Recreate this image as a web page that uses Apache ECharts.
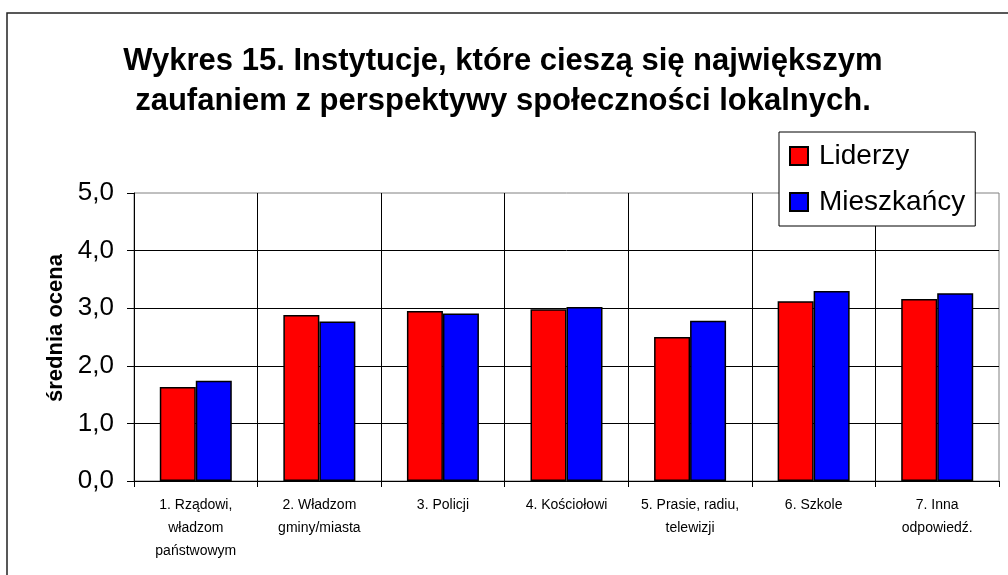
<!DOCTYPE html>
<html lang="pl">
<head>
    <meta charset="UTF-8">
    <title>Wykres 15</title>
    <script src="https://cdn.jsdelivr.net/npm/echarts@6/dist/echarts.min.js"></script>
    <style>
        html, body { margin: 0; padding: 0; background: #fff; }
        .box { width: 1008px; height: 575px; }
    </style>
</head>
<body>
<div id="chart" class="box"></div>
<script>
    // dane
    var categories = [
        '1. Rządowi,\nwładzom\npaństwowym',
        '2. Władzom\ngminy/miasta',
        '3. Policji',
        '4. Kościołowi',
        '5. Prasie, radiu,\ntelewizji',
        '6. Szkole',
        '7. Inna\nodpowiedź.'
    ];
    var liderzy = [1.63, 2.88, 2.95, 2.98, 2.50, 3.12, 3.16];
    var mieszkancy = [1.74, 2.77, 2.91, 3.02, 2.78, 3.30, 3.26];

    var font = 'Liberation Sans, Arial, sans-serif';

    var myChart = echarts.init(document.getElementById('chart'));
    var option = {
        animation: false,
        textStyle: { fontFamily: font },
        title: {
            text: 'Wykres 15. Instytucje, które cieszą się największym\nzaufaniem z perspektywy społeczności lokalnych.',
            left: 498,
            textAlign: 'center',
            top: 36,
            textStyle: {
                fontFamily: font,
                fontSize: 31,
                fontWeight: 'bold',
                lineHeight: 40,
                color: '#000'
            }
        },
        graphic: [{
            type: 'rect',
            shape: { x: 7, y: 13, width: 1100, height: 700 },
            style: { fill: 'none', stroke: '#222', lineWidth: 1.5 },
            silent: true
        }],
        legend: {
            orient: 'vertical',
            left: 779,
            top: 132,
            padding: [10, 10, 10, 10],
            itemWidth: 18,
            itemHeight: 18,
            itemGap: 18,
            borderColor: '#000',
            borderWidth: 1,
            backgroundColor: '#fff',
            z: 10,
            icon: 'rect',
            textStyle: { fontFamily: font, fontSize: 28, color: '#000', padding: [0, 0, 0, 6] },
            data: ['Liderzy', 'Mieszkańcy']
        },
        grid: {
            left: 134,
            right: 9,
            top: 193,
            bottom: 94,
            show: true,
            borderColor: '#808080',
            borderWidth: 1
        },
        xAxis: {
            type: 'category',
            data: categories,
            axisLine: { lineStyle: { color: '#000', width: 1 } },
            axisTick: { show: true, length: 6, lineStyle: { color: '#000' } },
            splitLine: { show: true, showMaxLine: false, lineStyle: { color: '#000', width: 1 } },
            axisLabel: {
                interval: 0,
                margin: 13,
                fontFamily: font,
                fontSize: 14,
                lineHeight: 23,
                color: '#000'
            }
        },
        yAxis: {
            type: 'value',
            min: 0,
            max: 5,
            interval: 1,
            name: 'średnia ocena',
            nameLocation: 'middle',
            nameGap: 67,
            nameTextStyle: {
                fontFamily: font,
                fontSize: 22,
                fontWeight: 'bold',
                color: '#000',
                padding: [0, 0, 0, 18]
            },
            axisLine: { show: true, lineStyle: { color: '#000', width: 1 } },
            axisTick: { show: true, length: 7, lineStyle: { color: '#000' } },
            splitLine: { show: true, showMaxLine: false, lineStyle: { color: '#000', width: 1 } },
            axisLabel: {
                margin: 20,
                fontFamily: font,
                fontSize: 26,
                color: '#000',
                formatter: function (v) { return v.toFixed(1).replace('.', ','); }
            }
        },
        series: [
            {
                name: 'Liderzy',
                type: 'bar',
                data: liderzy,
                barWidth: 36,
                barGap: '0%',
                itemStyle: { color: '#ff0000', borderColor: '#000', borderWidth: 1.5 }
            },
            {
                name: 'Mieszkańcy',
                type: 'bar',
                data: mieszkancy,
                barWidth: 36,
                barGap: '0%',
                itemStyle: { color: '#0000ff', borderColor: '#000', borderWidth: 1.5 }
            }
        ]
    };
    myChart.setOption(option);
</script>
</body>
</html>
